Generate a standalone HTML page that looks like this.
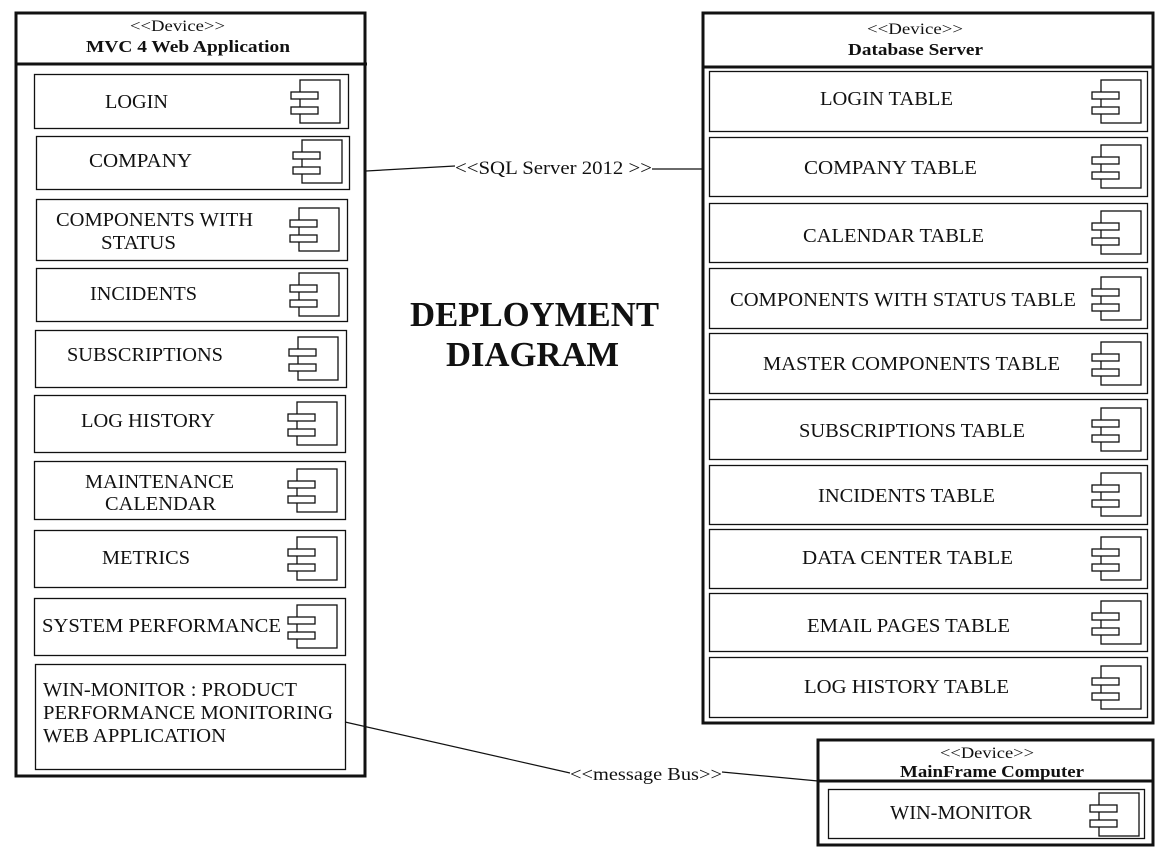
<!DOCTYPE html>
<html><head><meta charset="utf-8"><style>
html,body{margin:0;padding:0;background:#fff;}
svg{display:block;}
text{font-family:"Liberation Serif",serif;fill:#111;}
</style></head><body>
<svg width="1165" height="857" viewBox="0 0 1165 857" xmlns="http://www.w3.org/2000/svg">
<defs>
<g id="ic">
<rect x="9" y="0" width="40" height="43" fill="#fff" stroke="#111" stroke-width="1.3"/>
<rect x="0" y="12" width="27" height="7" fill="#fff" stroke="#111" stroke-width="1.3"/>
<rect x="0" y="27" width="27" height="7" fill="#fff" stroke="#111" stroke-width="1.3"/>
</g>
</defs>
<g fill="none" stroke="#111">
<rect x="16" y="13" width="349" height="763" stroke-width="3"/>
<line x1="16" y1="64" x2="367" y2="64" stroke-width="3"/>
<rect x="703" y="13" width="450" height="710" stroke-width="3"/>
<line x1="703" y1="67" x2="1153" y2="67" stroke-width="3"/>
<rect x="818" y="740" width="335" height="105" stroke-width="3"/>
<line x1="818" y1="781" x2="1153" y2="781" stroke-width="3"/>
<g stroke-width="1.3">
<rect x="34.5" y="74.5" width="314" height="54"/>
<rect x="36.5" y="136.5" width="313" height="53"/>
<rect x="36.5" y="199.5" width="311" height="61"/>
<rect x="36.5" y="268.5" width="311" height="53"/>
<rect x="35.5" y="330.5" width="311" height="57"/>
<rect x="34.5" y="395.5" width="311" height="57"/>
<rect x="34.5" y="461.5" width="311" height="58"/>
<rect x="34.5" y="530.5" width="311" height="57"/>
<rect x="34.5" y="598.5" width="311" height="57"/>
<rect x="35.5" y="664.5" width="310" height="105"/>
<rect x="709.5" y="71.5" width="438" height="60"/>
<rect x="709.5" y="137.5" width="438" height="59"/>
<rect x="709.5" y="203.5" width="438" height="59"/>
<rect x="709.5" y="268.5" width="438" height="60"/>
<rect x="709.5" y="333.5" width="438" height="60"/>
<rect x="709.5" y="399.5" width="438" height="60"/>
<rect x="709.5" y="465.5" width="438" height="59"/>
<rect x="709.5" y="529.5" width="438" height="59"/>
<rect x="709.5" y="593.5" width="438" height="58"/>
<rect x="709.5" y="657.5" width="438" height="60"/>
<rect x="828.5" y="789.5" width="316" height="49"/>
</g>
<polyline points="366,171 455,166" stroke-width="1.2"/>
<polyline points="652,169 703,169" stroke-width="1.2"/>
<polyline points="345,722 570,773" stroke-width="1.2"/>
<polyline points="722,772 818,781" stroke-width="1.2"/>
</g>
<use href="#ic" x="291" y="80"/>
<use href="#ic" x="293" y="140"/>
<use href="#ic" x="290" y="208"/>
<use href="#ic" x="290" y="273"/>
<use href="#ic" x="289" y="337"/>
<use href="#ic" x="288" y="402"/>
<use href="#ic" x="288" y="469"/>
<use href="#ic" x="288" y="537"/>
<use href="#ic" x="288" y="605"/>
<use href="#ic" x="1092" y="80"/>
<use href="#ic" x="1092" y="145"/>
<use href="#ic" x="1092" y="211"/>
<use href="#ic" x="1092" y="277"/>
<use href="#ic" x="1092" y="342"/>
<use href="#ic" x="1092" y="408"/>
<use href="#ic" x="1092" y="473"/>
<use href="#ic" x="1092" y="537"/>
<use href="#ic" x="1092" y="601"/>
<use href="#ic" x="1092" y="666"/>
<use href="#ic" x="1090" y="793"/>
<g lengthAdjust="spacingAndGlyphs">
<text x="130" y="31" font-size="16" textLength="95" lengthAdjust="spacingAndGlyphs">&lt;&lt;Device&gt;&gt;</text>
<text x="86" y="52" font-size="17" font-weight="bold" textLength="204" lengthAdjust="spacingAndGlyphs">MVC 4  Web Application</text>
<text x="867" y="34" font-size="16" textLength="96" lengthAdjust="spacingAndGlyphs">&lt;&lt;Device&gt;&gt;</text>
<text x="848" y="55" font-size="17" font-weight="bold" textLength="135" lengthAdjust="spacingAndGlyphs">Database Server</text>
<text x="940" y="758" font-size="16" textLength="94" lengthAdjust="spacingAndGlyphs">&lt;&lt;Device&gt;&gt;</text>
<text x="900" y="777" font-size="17" font-weight="bold" textLength="184" lengthAdjust="spacingAndGlyphs">MainFrame Computer</text>
</g>
<g font-size="20">
<text x="105" y="108" textLength="63" lengthAdjust="spacingAndGlyphs">LOGIN</text>
<text x="89" y="167" textLength="103" lengthAdjust="spacingAndGlyphs">COMPANY</text>
<text x="56" y="226" textLength="197" lengthAdjust="spacingAndGlyphs">COMPONENTS WITH</text>
<text x="101" y="249" textLength="75" lengthAdjust="spacingAndGlyphs">STATUS</text>
<text x="90" y="300" textLength="107" lengthAdjust="spacingAndGlyphs">INCIDENTS</text>
<text x="67" y="361" textLength="156" lengthAdjust="spacingAndGlyphs">SUBSCRIPTIONS</text>
<text x="81" y="427" textLength="134" lengthAdjust="spacingAndGlyphs">LOG HISTORY</text>
<text x="85" y="488" textLength="149" lengthAdjust="spacingAndGlyphs">MAINTENANCE</text>
<text x="105" y="510" textLength="111" lengthAdjust="spacingAndGlyphs">CALENDAR</text>
<text x="102" y="564" textLength="88" lengthAdjust="spacingAndGlyphs">METRICS</text>
<text x="42" y="632" textLength="239" lengthAdjust="spacingAndGlyphs">SYSTEM PERFORMANCE</text>
<text x="43" y="696" textLength="254" lengthAdjust="spacingAndGlyphs">WIN-MONITOR : PRODUCT</text>
<text x="43" y="719" textLength="290" lengthAdjust="spacingAndGlyphs">PERFORMANCE MONITORING</text>
<text x="43" y="742" textLength="183" lengthAdjust="spacingAndGlyphs">WEB APPLICATION</text>
</g>
<g font-size="20">
<text x="820" y="105" textLength="133" lengthAdjust="spacingAndGlyphs">LOGIN TABLE</text>
<text x="804" y="174" textLength="173" lengthAdjust="spacingAndGlyphs">COMPANY TABLE</text>
<text x="803" y="242" textLength="181" lengthAdjust="spacingAndGlyphs">CALENDAR TABLE</text>
<text x="730" y="306" textLength="346" lengthAdjust="spacingAndGlyphs">COMPONENTS WITH STATUS TABLE</text>
<text x="763" y="370" textLength="297" lengthAdjust="spacingAndGlyphs">MASTER COMPONENTS TABLE</text>
<text x="799" y="437" textLength="226" lengthAdjust="spacingAndGlyphs">SUBSCRIPTIONS TABLE</text>
<text x="818" y="502" textLength="177" lengthAdjust="spacingAndGlyphs">INCIDENTS TABLE</text>
<text x="802" y="564" textLength="211" lengthAdjust="spacingAndGlyphs">DATA CENTER TABLE</text>
<text x="807" y="632" textLength="203" lengthAdjust="spacingAndGlyphs">EMAIL PAGES TABLE</text>
<text x="804" y="693" textLength="205" lengthAdjust="spacingAndGlyphs">LOG HISTORY TABLE</text>
<text x="890" y="819" textLength="142" lengthAdjust="spacingAndGlyphs">WIN-MONITOR</text>
</g>
<text x="455" y="174" font-size="19" textLength="197" lengthAdjust="spacingAndGlyphs">&lt;&lt;SQL Server  2012  &gt;&gt;</text>
<text x="570" y="780" font-size="18" textLength="152" lengthAdjust="spacingAndGlyphs">&lt;&lt;message Bus&gt;&gt;</text>
<text x="410" y="326" font-size="35" font-weight="bold" textLength="249" lengthAdjust="spacingAndGlyphs">DEPLOYMENT</text>
<text x="446" y="366" font-size="35" font-weight="bold" textLength="173" lengthAdjust="spacingAndGlyphs">DIAGRAM</text>
</svg>
</body></html>
